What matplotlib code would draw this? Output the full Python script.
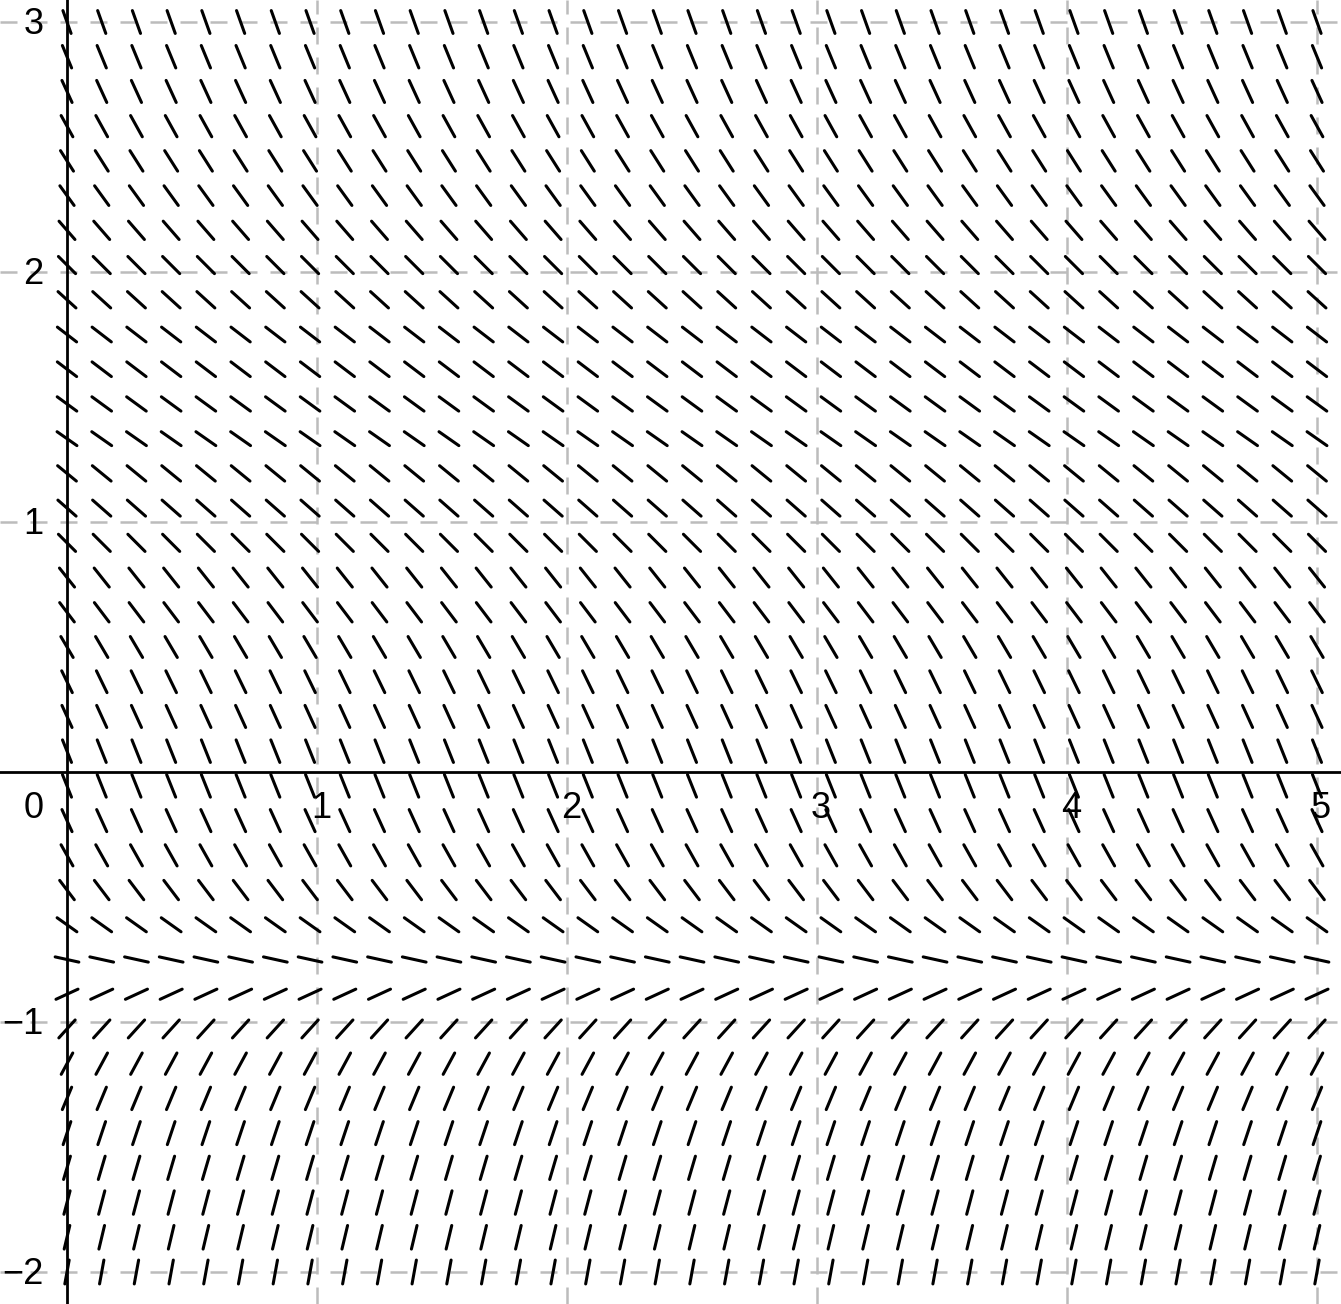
import numpy as np
import matplotlib
matplotlib.use("Agg")
import matplotlib.pyplot as plt
from matplotlib.collections import LineCollection

# slope field sample points (columns x, rows y)
x_samples = np.linspace(0, 5, 37)
y_samples = np.linspace(-2, 3, 37)

row_slopes = [
    5.5, 4.2, 3.8, 3.4, 3.0, 2.4, 1.85, 1.1, 0.46,
    -0.22, -0.71, -1.32, -1.78, -2.19, -2.5, -2.5, -2.19, -2.06,
    -1.7, -1.32, -1.26, -1.0, -0.88, -0.82, -0.70, -0.73, -0.76,
    -0.77, -0.91, -1.0, -1.15, -1.38, -1.58, -1.81, -2.18, -2.43, -2.8,
]

x_ticks = [1, 2, 3, 4, 5]
y_ticks = [-2, -1, 1, 2, 3]
tick_text = {-2: "\u22122", -1: "\u22121"}

plt.rcParams["font.family"] = ["Liberation Sans", "DejaVu Sans"]

fig = plt.figure(figsize=(13.41, 13.04), dpi=100)
ax = fig.add_axes([0, 0, 1, 1])
ax.set_xlim(-0.268, 5.096)
ax.set_ylim(-2.128, 3.088)
ax.set_aspect("equal")
ax.axis("off")

# dashed grid
for gx in x_ticks:
    ax.axvline(gx, color="#bcbcbc", lw=1.8, linestyle=(0, (6.8, 5.2)), zorder=1)
for gy in y_ticks:
    ax.axhline(gy, color="#bcbcbc", lw=1.8, linestyle=(0, (6.8, 5.2)), zorder=1)

# axes
ax.axhline(0, color="black", lw=2.0, zorder=3)
ax.axvline(0, color="black", lw=2.0, zorder=3)

# slope segments
half = 0.0485
segs = []
for yv, m in zip(y_samples, row_slopes):
    d = np.array([1.0, m]) / np.hypot(1.0, m) * half
    for xv in x_samples:
        segs.append([(xv - d[0], yv - d[1]), (xv + d[0], yv + d[1])])
lc = LineCollection(segs, colors="black", linewidths=2.2, capstyle="round", zorder=4)
ax.add_collection(lc)

# tick labels
for tx in x_ticks:
    ax.text(tx + 0.016, -0.145, str(tx), fontsize=26, ha="center", va="center", zorder=5)
for ty in y_ticks:
    ax.text(-0.093, ty - 0.012, tick_text.get(ty, str(ty)), fontsize=26,
            ha="right", va="center", zorder=5)
ax.text(-0.093, -0.145, "0", fontsize=26, ha="right", va="center", zorder=5)

fig.savefig("out.png", dpi=100)
